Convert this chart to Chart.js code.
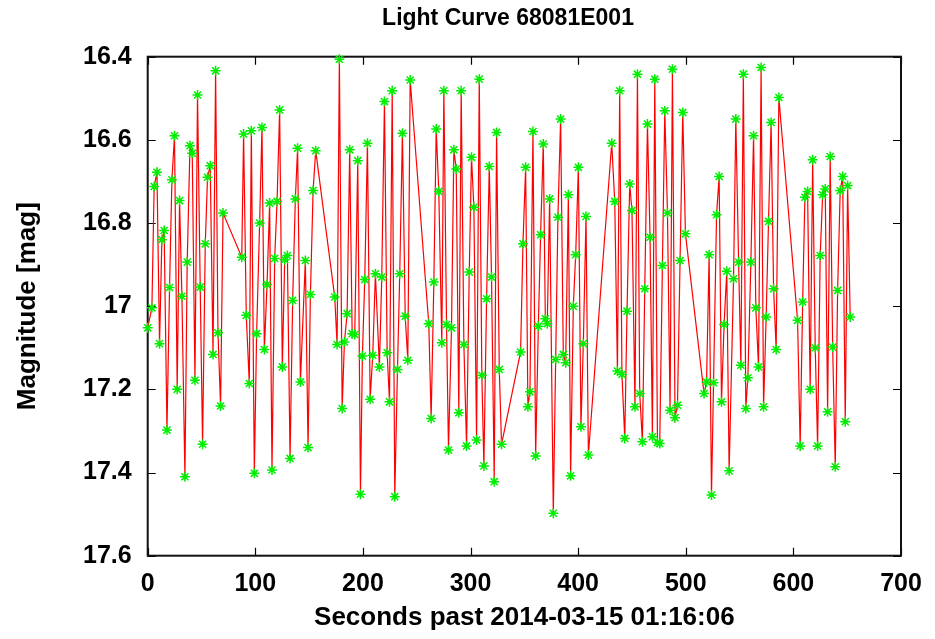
<!DOCTYPE html>
<html>
<head>
<meta charset="utf-8">
<script src="https://cdn.jsdelivr.net/npm/chart.js@4"></script>
<style>
html,body{margin:0;padding:0;background:#fff;}
canvas{display:block;}
</style>
</head>
<body>
<canvas id="c" width="935" height="639"></canvas>
<script>
const chartTitle = 'Light Curve 68081E001';
const xAxisTitle = 'Seconds past 2014-03-15 01:16:06';
const yAxisTitle = 'Magnitude [mag]';

const times = [
  0, 3.9, 6.0, 8.6, 11.0, 13.2, 15.3, 17.9, 20.3, 22.5, 24.9, 27.4, 29.6, 31.8, 34.6, 36.7, 39.3, 41.4, 43.9, 46.3, 48.8, 51.0, 53.5, 55.6, 58.1, 60.7, 63.1, 65.3, 67.7, 70.0,
  87.4, 89.1, 91.6, 94.4, 96.3, 99.1, 101.2, 104.0, 106.2, 108.4, 110.9, 113.3, 115.5, 118.0, 120.2, 122.6, 125.1, 127.3, 129.8, 132.3, 134.7, 137.2, 139.3, 141.9, 146.5, 149.0, 151.2, 153.7, 156.1,
  173.8, 176.0, 178.1, 180.7, 182.8, 185.3, 187.7, 190.0, 192.4, 195.2, 197.7, 199.5, 201.7, 204.2, 206.7, 209.1, 211.6, 215.3, 217.5, 220.0, 222.5, 224.7, 227.2, 229.6, 232.1, 234.2, 236.7, 239.3, 241.7, 243.9,
  261.2, 263.4, 265.9, 268.1, 270.5, 273.3, 275.2, 277.7, 279.5, 282.3, 284.5, 286.7, 289.1, 291.3, 293.8, 296.3, 298.8, 300.9, 303.1, 305.6, 308.1, 310.5, 312.4, 314.9, 317.4, 319.5, 322.0, 324.2, 326.7, 328.8,
  346.5, 348.7, 351.2, 353.3, 355.2, 358.0, 360.5, 363.0, 365.1, 367.6, 369.5, 371.3, 373.5, 376.9, 379.1, 381.2, 383.7, 386.2, 388.4, 390.9, 393.0, 395.5, 397.7, 400.2, 402.6, 404.8, 407.3, 409.5,
  431.2, 434.0, 436.5, 438.6, 440.7, 443.3, 445.4, 447.9, 450.0, 452.8, 455.1, 457.2, 459.7, 461.9, 464.4, 466.8, 469.0, 471.2, 473.7, 475.8, 478.3, 480.5, 483.0, 485.4, 487.6, 490.0, 492.3, 494.7, 497.2, 499.7,
  517.0, 519.3, 521.7, 523.9, 525.8, 528.6, 531.0, 533.2, 535.6, 538.1, 540.3, 544.4, 546.5, 549.1, 551.2, 553.5, 555.8, 557.7, 560.5, 563.0, 565.1, 567.6, 570.0, 572.3, 574.7, 576.9, 579.3, 581.6, 584.0, 586.5,
  603.9, 606.3, 608.6, 610.7, 613.2, 615.6, 617.9, 620.3, 622.5, 624.9, 627.2, 629.6, 631.8, 634.2, 636.5, 638.9, 641.1, 643.5, 645.8, 648.2, 650.4, 652.8
];

const mags = [
  17.052, 17.004, 16.712, 16.678, 17.090, 16.840, 16.818, 17.298, 16.955, 16.696, 16.590, 17.200, 16.746, 16.976, 17.410, 16.894, 16.614, 16.632, 17.178, 16.492, 16.954, 17.332, 16.850, 16.690, 16.662, 17.116, 16.434, 17.064, 17.240, 16.776,
  16.882, 16.586, 17.022, 17.186, 16.578, 17.402, 17.066, 16.800, 16.570, 17.104, 16.948, 16.752, 17.394, 16.885, 16.748, 16.528, 17.146, 16.888, 16.878, 17.366, 16.986, 16.742, 16.620, 17.182, 16.890, 17.340, 16.972, 16.722, 16.626,
  16.978, 17.092, 16.406, 17.246, 17.086, 17.018, 16.624, 17.066, 17.068, 16.650, 17.452, 17.120, 16.936, 16.608, 17.224, 17.118, 16.922, 17.146, 16.930, 16.508, 17.112, 17.230, 16.482, 17.458, 17.152, 16.922, 16.584, 17.024, 17.130, 16.456,
  17.042, 17.270, 16.942, 16.574, 16.724, 17.088, 16.482, 17.044, 17.346, 17.052, 16.624, 16.670, 17.256, 16.482, 17.092, 17.336, 16.918, 16.642, 16.762, 17.322, 16.454, 17.166, 17.384, 16.982, 16.664, 16.930, 17.422, 16.582, 17.152, 17.332,
  17.110, 16.850, 16.666, 17.242, 17.206, 16.580, 17.360, 17.048, 16.828, 16.610, 17.030, 17.042, 16.742, 17.498, 17.128, 16.786, 16.550, 17.116, 17.136, 16.732, 17.408, 17.000, 16.876, 16.666, 17.290, 17.090, 16.784, 17.358,
  16.608, 16.748, 17.156, 16.482, 17.164, 17.318, 17.012, 16.706, 16.770, 17.242, 16.442, 17.210, 17.326, 16.958, 16.562, 16.834, 17.314, 16.454, 17.328, 17.330, 16.902, 16.530, 16.776, 17.250, 16.430, 17.268, 17.238, 16.890, 16.534, 16.826,
  17.210, 17.182, 16.876, 17.454, 17.184, 16.780, 16.688, 17.230, 17.044, 16.916, 17.396, 16.934, 16.550, 16.894, 17.142, 16.442, 17.246, 17.172, 16.894, 16.590, 17.004, 17.146, 16.426, 17.242, 17.026, 16.796, 16.558, 16.958, 17.104, 16.498,
  17.034, 17.336, 16.990, 16.738, 16.724, 17.200, 16.648, 17.100, 17.336, 16.878, 16.732, 16.718, 17.254, 16.640, 17.098, 17.386, 16.962, 16.722, 16.688, 17.278, 16.710, 17.026
];

const xTickValues = [0, 100, 200, 300, 400, 500, 600, 700];
const yTickLabels = ['16.4', '16.6', '16.8', '17', '17.2', '17.4', '17.6'];

const FONT = '"Liberation Sans", Arial, Helvetica, sans-serif';
Chart.defaults.color = '#000';
Chart.defaults.font.family = FONT;

const points = times.map((t, i) => ({x: t, y: mags[i]}));

const framePlugin = {
  id: 'frameTicks',
  beforeDatasetsDraw(chart) {
    const {ctx, chartArea: a, scales: {x, y}} = chart;
    ctx.save();
    ctx.strokeStyle = '#000';
    ctx.lineWidth = 1.2;
    ctx.beginPath();
    x.ticks.forEach(t => {
      const px = Math.round(x.getPixelForValue(t.value)) + 0.5;
      ctx.moveTo(px, a.bottom); ctx.lineTo(px, a.bottom - 8);
      ctx.moveTo(px, a.top); ctx.lineTo(px, a.top + 8);
    });
    y.ticks.forEach(t => {
      const py = Math.round(y.getPixelForValue(t.value)) + 0.5;
      ctx.moveTo(a.left, py); ctx.lineTo(a.left + 8, py);
      ctx.moveTo(a.right, py); ctx.lineTo(a.right - 8, py);
    });
    ctx.stroke();
    ctx.lineWidth = 2;
    ctx.strokeStyle = '#111';
    ctx.strokeRect(a.left, a.top, a.right - a.left, a.bottom - a.top);
    ctx.restore();
  },
  afterDraw(chart) {
    const {ctx} = chart;
    ctx.save();
    ctx.fillStyle = '#000';
    ctx.font = 'bold 23px ' + FONT;
    ctx.textAlign = 'center';
    ctx.textBaseline = 'middle';
    ctx.fillText(chartTitle, 508, 19);
    ctx.restore();
  }
};

new Chart(document.getElementById('c'), {
  type: 'line',
  data: {
    datasets: [{
      data: points,
      borderColor: '#ff0000',
      borderWidth: 1.2,
      pointStyle: 'star',
      pointRadius: 5,
      pointBorderWidth: 1.5,
      pointBorderColor: '#00ee00',
      pointBackgroundColor: '#00ee00',
      tension: 0,
      clip: false
    }]
  },
  options: {
    responsive: false,
    animation: false,
    devicePixelRatio: 1,
    layout: {padding: {top: 56.7, left: 0, right: 34, bottom: 0}},
    plugins: {
      legend: {display: false},
      tooltip: {enabled: false},
      title: {display: false}
    },
    scales: {
      x: {
        type: 'linear',
        min: 0, max: 700,
        afterBuildTicks(scale) { scale.ticks = xTickValues.map(v => ({value: v})); },
        grid: {display: false, drawTicks: false},
        border: {display: false},
        ticks: {
          padding: 13,
          maxRotation: 0,
          font: {size: 25, weight: 'bold'},
          color: '#000',
          callback: v => String(v)
        },
        title: {
          display: true,
          text: xAxisTitle,
          color: '#000',
          font: {size: 26, weight: 'bold'},
          padding: {top: 0, bottom: 6}
        },
        afterFit(scale) { scale.height = 83.3; }
      },
      y: {
        type: 'linear',
        reverse: true,
        min: 16.4, max: 17.6,
        afterBuildTicks(scale) { scale.ticks = yTickLabels.map(s => ({value: parseFloat(s)})); },
        grid: {display: false, drawTicks: false},
        border: {display: false},
        ticks: {
          padding: 16,
          font: {size: 25, weight: 'bold'},
          color: '#000',
          callback: (v, i) => yTickLabels[i]
        },
        title: {
          display: true,
          text: yAxisTitle,
          color: '#000',
          font: {size: 26, weight: 'bold'},
          padding: {top: 12, bottom: 0}
        },
        afterFit(scale) { scale.width = 147.7; }
      }
    }
  },
  plugins: [framePlugin]
});
</script>
</body>
</html>
